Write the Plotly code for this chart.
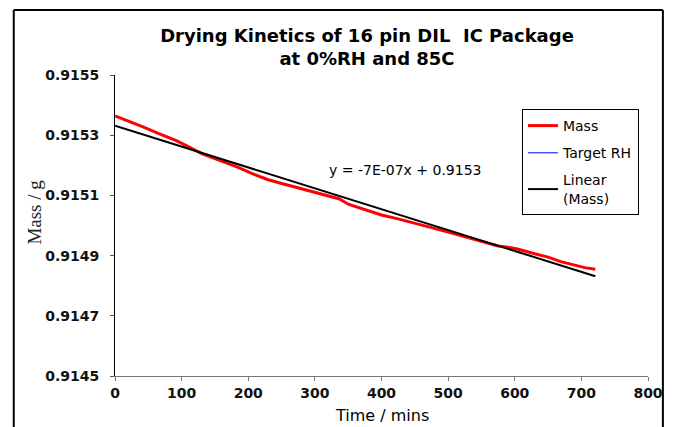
import numpy as np
import plotly.graph_objects as go

# ---- data ----
time_mins = [0, 20, 42, 65, 92, 110, 131, 160, 184, 206, 230, 246, 270, 296, 320,
             336, 351, 375, 400, 425, 451, 475, 500, 520, 542, 560, 575, 590, 604,
             630, 650, 669, 690, 705, 721]
mass_g = [0.915364, 0.915348, 0.915328, 0.915306, 0.915282, 0.915262, 0.915238,
          0.915214, 0.915194, 0.915172, 0.915152, 0.915142, 0.915128, 0.915111,
          0.915098, 0.915089, 0.915070, 0.915052, 0.915035, 0.915022, 0.915008,
          0.914993, 0.914978, 0.914966, 0.914952, 0.914940, 0.914932, 0.914928,
          0.914922, 0.914906, 0.914895, 0.914880, 0.914868, 0.914860, 0.914855]
x_ticks = [0, 100, 200, 300, 400, 500, 600, 700, 800]
y_ticks = [0.9145, 0.9147, 0.9149, 0.9151, 0.9153, 0.9155]
y_tick_labels = ["0.9145", "0.9147", "0.9149", "0.9151", "0.9153", "0.9155"]
title_text = "<b>Drying Kinetics of 16 pin DIL  IC Package<br>at 0%RH and 85C</b>"
equation_text = "y = -7E-07x + 0.9153"

# linear trendline of the mass series
slope, intercept = np.polyfit(time_mins, mass_g, 1)
fit_x = [time_mins[0], time_mins[-1]]
fit_y = [intercept + slope * t for t in fit_x]

fig = go.Figure()
fig.add_trace(go.Scatter(x=time_mins, y=mass_g, mode="lines", name="Mass",
                         line=dict(color="#ff0000", width=3), legendgroup="a"))
fig.add_trace(go.Scatter(x=[None], y=[None], mode="lines", name="Target RH",
                         line=dict(color="#0000ff", width=1), legendgroup="b"))
fig.add_trace(go.Scatter(x=fit_x, y=fit_y, mode="lines", name="Linear<br>(Mass)",
                         line=dict(color="#000000", width=2), legendgroup="c"))

L, R, T, B = 115, 23, 75, 51
W, H = 675, 427
pw, ph = W - L - R, H - T - B

def px_x(px):
    return (px - L) / pw

def px_y(py):
    return (H - B - py) / ph

tick_font = dict(family="DejaVu Sans", size=14, color="#111111", weight="bold")

fig.update_layout(
    width=W, height=H,
    margin=dict(l=L, r=R, t=T, b=B),
    paper_bgcolor="white", plot_bgcolor="white",
    showlegend=True,
    title=dict(text=title_text, x=367 / W, xanchor="center", xref="container",
               y=1 - 42 / H, yanchor="middle", yref="container",
               font=dict(family="DejaVu Sans", size=18, color="black")),
    legend=dict(x=px_x(525), y=px_y(109), xanchor="left", yanchor="top",
                bordercolor="black", borderwidth=1, bgcolor="white",
                tracegroupgap=6, traceorder="grouped",
                font=dict(family="DejaVu Sans", size=14, color="black")),
    xaxis=dict(range=[0, 800], tickvals=x_ticks, showgrid=False, zeroline=False,
               showline=True, linecolor="#777777", linewidth=1,
               ticks="outside", ticklen=4, tickcolor="#777777",
               tickfont=tick_font),
    yaxis=dict(range=[0.9145, 0.9155], tickvals=y_ticks, ticktext=y_tick_labels,
               showgrid=False, zeroline=False,
               showline=True, linecolor="black", linewidth=1,
               ticks="outside", ticklen=4, tickcolor="#555555",
               ticklabelstandoff=8, tickfont=tick_font),
    annotations=[
        dict(text=equation_text, x=px_x(408), y=px_y(170), xref="paper", yref="paper",
             showarrow=False, xanchor="center", yanchor="middle",
             font=dict(family="DejaVu Sans", size=14, color="black")),
        dict(text="Time / mins", x=px_x(384), y=px_y(415), xref="paper", yref="paper",
             showarrow=False, xanchor="center", yanchor="middle",
             font=dict(family="DejaVu Sans", size=16, color="black")),
        dict(text="Mass / g", x=px_x(33), y=px_y(212), xref="paper", yref="paper",
             showarrow=False, xanchor="center", yanchor="middle", textangle=-90,
             font=dict(family="Liberation Serif", size=19, color="#222222")),
    ],
    shapes=[
        dict(type="line", xref="paper", yref="paper",
             x0=px_x(13), x1=px_x(13), y0=px_y(430), y1=px_y(10),
             line=dict(color="black", width=2)),
        dict(type="line", xref="paper", yref="paper",
             x0=px_x(13), x1=px_x(667), y0=px_y(10), y1=px_y(10),
             line=dict(color="black", width=2)),
        dict(type="line", xref="paper", yref="paper",
             x0=px_x(667), x1=px_x(667), y0=px_y(430), y1=px_y(10),
             line=dict(color="black", width=2)),
    ],
)

fig.write_html("out.html", config={"displayModeBar": False},
               post_script="document.body.style.margin='0';document.body.style.overflow='hidden';")
